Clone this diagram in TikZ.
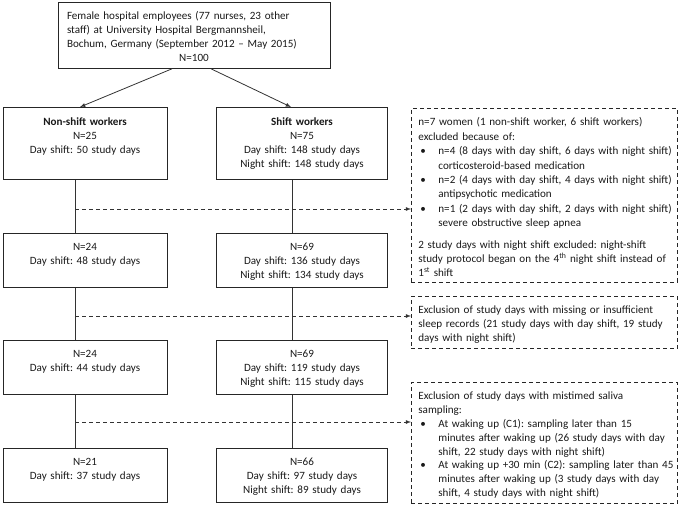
\documentclass[tikz,border=0pt]{standalone}
\usepackage{fontspec}
\setmainfont{Carlito}
\usetikzlibrary{arrows}
\setlength{\parindent}{0pt}
\frenchspacing
\newcommand{\bul}[1]{\makebox[20pt][l]{\hspace{2pt}\textbullet}\mbox{#1}}
\newcommand{\ind}[1]{\hspace*{20pt}\mbox{#1}}

\begin{document}
\begin{tikzpicture}[x=1pt,y=-1pt,>=latex,
    every node/.style={font=\fontsize{11.1}{13.9}\selectfont, text=black!90},
    box/.style={draw=black!85, line width=0.8pt, anchor=north, inner xsep=4pt, inner ysep=5pt, text height=12pt},
    lcol/.style={box, align=center, text width=156pt},
    rcol/.style={box, align=center, text width=163pt},
    excl/.style={draw=black!85, line width=0.8pt, dash pattern=on 4pt off 3pt, anchor=north west,
      align=left, text width=252pt, inner xsep=7pt, inner ysep=5pt, text height=12.5pt},
    link/.style={draw=black!80, line width=0.8pt},
    cut/.style={link, dash pattern=on 4pt off 3pt, ->}]
  \useasboundingbox (0,0) rectangle (685,506);

  \node[box, align=left, text width=254pt, inner xsep=9pt, text depth=44pt] (all) at (194,2)
    {Female hospital employees (77 nurses, 23 other\\staff) at University Hospital Bergmannsheil,\\Bochum, Germany (September 2012 -- May 2015)\\\makebox[\linewidth]{N=100}};

  \node[lcol, text height=13pt, text depth=49pt] (ns1) at (85,107) {\textbf{Non-shift workers}\\N=25\\Day shift: 50 study days};
  \node[rcol, text height=13pt, text depth=49pt] (sw1) at (302,107) {\textbf{Shift workers}\\N=75\\Day shift: 148 study days\\Night shift: 148 study days};
  \node[lcol, text depth=32pt] (ns2) at (85,233) {N=24\\Day shift: 48 study days};
  \node[rcol, text depth=32pt] (sw2) at (302,233) {N=69\\Day shift: 136 study days\\Night shift: 134 study days};
  \node[lcol, text depth=32pt] (ns3) at (85,340) {N=24\\Day shift: 44 study days};
  \node[rcol, text depth=32pt] (sw3) at (302,340) {N=69\\Day shift: 119 study days\\Night shift: 115 study days};
  \node[lcol, text depth=32pt] (ns4) at (85,448) {N=21\\Day shift: 37 study days};
  \node[rcol, text depth=32pt] (sw4) at (302,448) {N=66\\Day shift: 97 study days\\Night shift: 89 study days};

  \node[excl, font=\fontsize{11.1}{14.4}\selectfont] (exA) at (411,108)
    {n=7 women (1 non-shift worker, 6 shift workers)\\excluded because of:\\
     \bul{n=4 (8 days with day shift, 6 days with night shift)}\\\ind{corticosteroid-based medication}\\
     \bul{n=2 (4 days with day shift, 4 days with night shift)}\\\ind{antipsychotic medication}\\
     \bul{n=1 (2 days with day shift, 2 days with night shift)}\\\ind{severe obstructive sleep apnea}\\[7pt]
     2 study days with night shift excluded: night-shift\\study protocol began on the 4\textsuperscript{th} night shift instead of\\1\textsuperscript{st} shift};
  \node[excl] (exB) at (411,296)
    {Exclusion of study days with missing or insufficient\\sleep records (21 study days with day shift, 19 study\\days with night shift)};
  \node[excl, text height=12pt] (exC) at (411,382)
    {Exclusion of study days with mistimed saliva\\sampling:\\
     \bul{At waking up (C1): sampling later than 15}\\\ind{minutes after waking up (26 study days with day}\\\ind{shift, 22 study days with night shift)}\\
     \bul{At waking up +30 min (C2): sampling later than 45}\\\ind{minutes after waking up (3 study days with day}\\\ind{shift, 4 study days with night shift)}};

  \coordinate (j1) at (75,209);
  \coordinate (j2) at (75,316);
  \coordinate (j3) at (75,422);

  \draw[link, ->] ([xshift=-22pt]all.south) -- ([xshift=-5pt]ns1.north);
  \draw[link, ->] ([xshift=17pt]all.south) -- ([xshift=-11pt]sw1.north);
  \path[link]
    ([xshift=-10pt]ns1.south) edge ([xshift=-10pt]ns2.north)
    ([xshift=-10pt]ns2.south) edge ([xshift=-10pt]ns3.north)
    ([xshift=-10pt]ns3.south) edge ([xshift=-10pt]ns4.north)
    ([xshift=-10pt]sw1.south) edge ([xshift=-10pt]sw2.north)
    ([xshift=-10pt]sw2.south) edge ([xshift=-10pt]sw3.north)
    ([xshift=-10pt]sw3.south) edge ([xshift=-10pt]sw4.north);
  \draw[cut] (j1) -- (j1 -| exA.west);
  \draw[cut] (j2) -- (j2 -| exB.west);
  \draw[cut] (j3) -- (j3 -| exC.west);
\end{tikzpicture}
\end{document}
